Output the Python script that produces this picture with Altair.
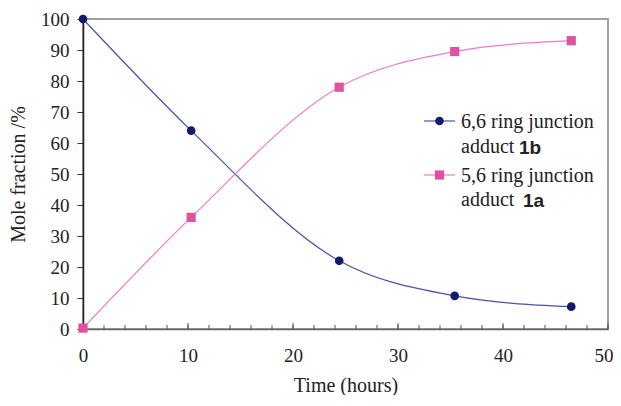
import altair as alt
import pandas as pd

# data
time_h = [0, 10.3, 24.4, 35.4, 46.5]
adduct_1b = [100, 64, 22, 10.7, 7.2]
adduct_1a = [0.3, 36, 78, 89.5, 93]
x_ticks = list(range(0, 51, 2))
x_major = list(range(0, 51, 10))
y_major = list(range(0, 101, 10))

df_b = pd.DataFrame({"t": time_h, "v": adduct_1b})
df_a = pd.DataFrame({"t": time_h, "v": adduct_1a})
df_ticks = pd.DataFrame({"t": x_ticks})
df_major = pd.DataFrame({"t": x_major})

W, H = 525, 310
SERIF = "Liberation Serif"
SANS = "Liberation Sans"
BLUE_M, BLUE_L = "#141a6b", "#4a52a6"
PINK_M, PINK_L = "#e0529f", "#f07cc4"

xs = alt.Scale(domain=[0, 50], nice=False)
ys = alt.Scale(domain=[0, 100], nice=False)

x_axis = alt.Axis(values=x_major, ticks=False, labelPadding=17, labelFlush=False,
                  labelOverlap=False, title="Time (hours)", titlePadding=10,
                  labelAlign={"condition": {"test": "datum.value === 50", "value": "right"}, "value": "center"},
                  labelOffset={"condition": {"test": "datum.value === 50", "value": 5}, "value": 0},
                  domainColor="#666", grid=False)
y_axis = alt.Axis(values=y_major, tickSize=6, tickColor="#333", labelPadding=8,
                  labelFlush=False, labelOverlap=False, title="Mole fraction /%",
                  titlePadding=12, domainColor="#222", grid=False)

X = alt.X("t:Q", scale=xs, axis=x_axis)
Y = alt.Y("v:Q", scale=ys, axis=y_axis)

line_b = alt.Chart(df_b).mark_line(interpolate="monotone", color=BLUE_L, strokeWidth=1.2).encode(x=X, y=Y)
line_a = alt.Chart(df_a).mark_line(interpolate="monotone", color=PINK_L, strokeWidth=1.2).encode(x=X, y=Y)
pts_b = alt.Chart(df_b).mark_point(shape="circle", filled=True, size=75, color=BLUE_M, opacity=1).encode(x=X, y=Y)
pts_a = alt.Chart(df_a).mark_point(shape="square", filled=True, size=85, color=PINK_M, opacity=1).encode(x=X, y=Y)

ticks_minor = alt.Chart(df_ticks).mark_rule(color="#555", strokeWidth=1).encode(
    x=X, y=alt.value(H), y2=alt.value(H - 4))
ticks_major = alt.Chart(df_major).mark_rule(color="#555", strokeWidth=1).encode(
    x=X, y=alt.value(H), y2=alt.value(H - 6))

# legend (drawn manually)
LX0, LX1, TX = 341, 372, 378
leg_df = pd.DataFrame({"k": [0]})
def leg_line(y, color):
    return alt.Chart(leg_df).mark_rule(color=color, strokeWidth=1.2).encode(
        x=alt.value(LX0), x2=alt.value(LX1), y=alt.value(y))
def leg_pt(y, color, shape, size):
    return alt.Chart(leg_df).mark_point(shape=shape, filled=True, size=size, color=color, opacity=1).encode(
        x=alt.value((LX0 + LX1) / 2), y=alt.value(y))
def leg_txt(x, y, text, font=SERIF, weight="normal", size=20):
    return alt.Chart(leg_df).mark_text(text=text, font=font, fontWeight=weight, fontSize=size,
                                       align="left", baseline="middle", color="#222").encode(
        x=alt.value(x), y=alt.value(y))

y1, y2 = 102, 156
legend = [
    leg_line(y1, BLUE_L), leg_pt(y1, BLUE_M, "circle", 75),
    leg_txt(TX, y1 + 1, "6,6 ring junction"),
    leg_txt(TX, y1 + 26, "adduct"),
    leg_txt(TX + 58, y1 + 27, "1b", font=SANS, weight="bold", size=19),
    leg_line(y2, PINK_L), leg_pt(y2, PINK_M, "square", 85),
    leg_txt(TX, y2 + 1, "5,6 ring junction"),
    leg_txt(TX, y2 + 25, "adduct"),
    leg_txt(TX + 62, y2 + 26, "1a", font=SANS, weight="bold", size=19),
]

chart = alt.layer(line_b, line_a, ticks_minor, ticks_major, pts_b, pts_a, *legend).properties(
    width=W, height=H,
    autosize=alt.AutoSizeParams(type="none"),
    padding={"left": 75, "top": 11, "right": 5, "bottom": 66},
    background="white",
).configure_view(stroke="#a0a0a0", strokeWidth=2).configure_axis(
    labelFont=SERIF, labelFontSize=19, labelColor="#222",
    titleFont=SERIF, titleFontSize=20, titleFontWeight="normal", titleColor="#222",
    domainWidth=1.5,
).configure_text(font=SERIF)

chart.save("out.html", embed_options={"renderer": "svg", "actions": False})
